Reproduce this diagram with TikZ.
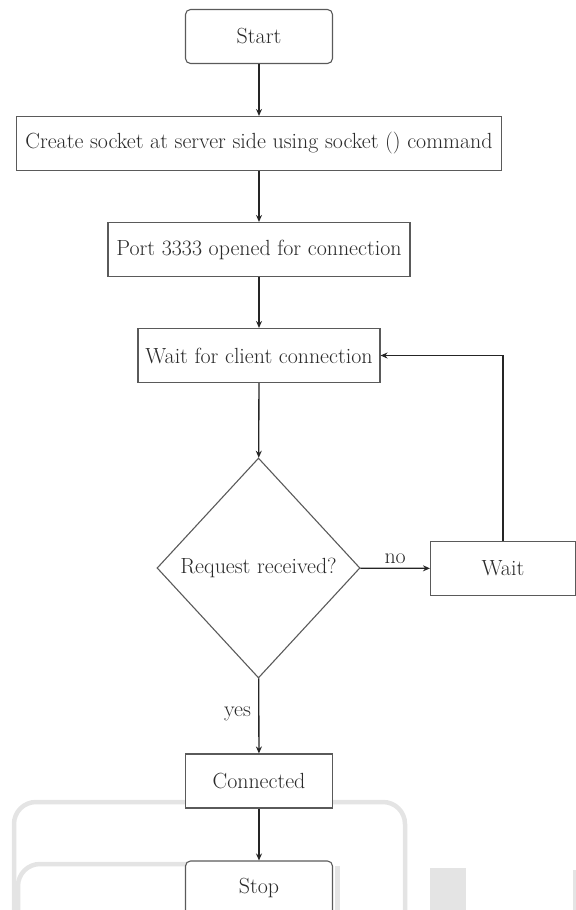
\documentclass[tikz,border=0pt]{standalone}
\usetikzlibrary{shapes.geometric,arrows.meta}
\definecolor{boxgray}{HTML}{5A5A5A}
\definecolor{linegray}{HTML}{252525}
\definecolor{textgray}{HTML}{2A2A2A}
\definecolor{ghost}{HTML}{E4E4E4}
\begin{document}
\begin{tikzpicture}[x=1bp,y=-1bp,
  txt/.style={text=textgray, font=\fontsize{22}{26}\selectfont},
  box/.style={txt, draw=boxgray, line width=1.1bp, fill=white, inner sep=0pt, minimum height=54bp},
  term/.style={box, rounded corners=5bp},
  decision/.style={txt, diamond, draw=boxgray, line width=1.1bp, fill=white, inner sep=0pt, minimum width=203bp, minimum height=220bp},
  flow/.style={draw=linegray, line width=1.3bp, -{Stealth[length=7bp,width=6bp]}},
  ghostline/.style={draw=ghost, line width=4.5bp, rounded corners=22bp},
  lbl/.style={txt}
]
\useasboundingbox (0,0) rectangle (576,910);
% faint background artefacts
\draw[ghostline] (190,802) -| (14,915);
\draw[ghostline] (330,802) -| (405,915);
\draw[ghostline] (190,864) -| (18,915);
\draw[draw=ghost, line width=5bp] (337,866) -- (337,915);
\fill[ghost] (430,868) rectangle (466,910);
\draw[draw=ghost, line width=3bp] (574,870) -- (574,910);

\node[term, minimum width=147bp] (start) at (259,36.5) {Start};
\node[box, minimum width=485bp] (create) at (259,143.5) {Create socket at server side using socket () command};
\node[box, minimum width=302bp] (port) at (259,249.5) {Port 3333 opened for connection};
\node[box, minimum width=242bp] (client) at (259,355.5) {Wait for client connection};
\node[decision] (req) at (258.5,568) {Request received?};
\node[box, minimum width=145bp] (wait) at (503,568.5) {Wait};
\node[box, minimum width=147bp] (conn) at (259,781) {Connected};
\node[term, minimum width=147bp] (stop) at (259,888) {Stop};

\draw[flow] (start) -- (create);
\draw[flow] (create) -- (port);
\draw[flow] (port) -- (client);
\draw[flow] (client) -- (req);
\draw[flow] (req) -- node[lbl, above=1bp, pos=0.5] {no} (wait);
\draw[flow] (wait.north) |- (client.east);
\draw[flow] (req) -- node[lbl, left=4bp, pos=0.48] {yes} (conn);
\draw[flow] (conn) -- (stop);
\end{tikzpicture}
\end{document}
